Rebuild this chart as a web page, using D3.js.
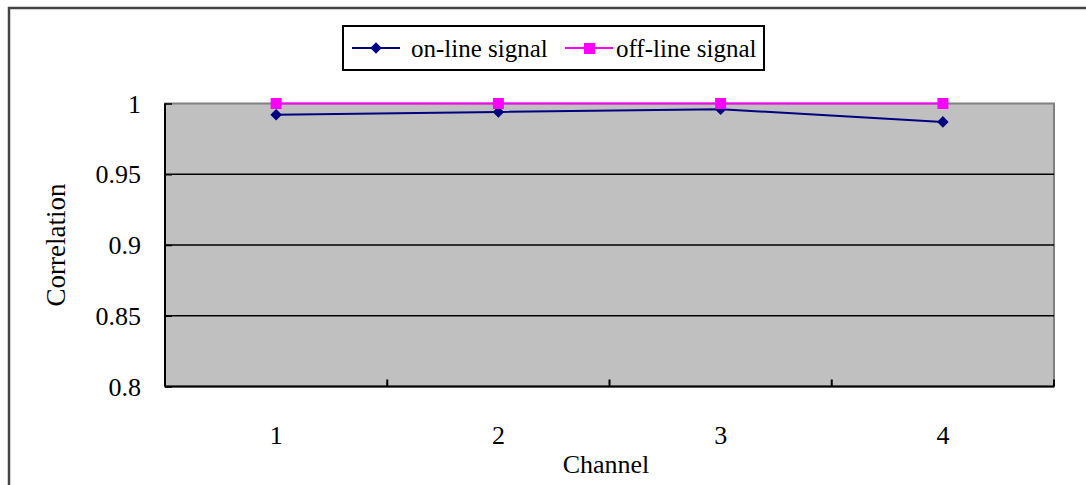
<!DOCTYPE html>
<html>
<head>
<meta charset="utf-8">
<script src="https://cdn.jsdelivr.net/npm/d3@7"></script>
<style>
  body { margin: 0; background: #fff; }
  svg { display: block; font-family: "Liberation Serif", "DejaVu Serif", serif; }
</style>
</head>
<body>
<svg width="1086" height="485"></svg>
<script>
// chart data
const channels = ["1", "2", "3", "4"];
const onLine = [0.992, 0.994, 0.996, 0.987];
const offLine = [1.0, 1.0, 1.0, 1.0];
const yTicks = [0.8, 0.85, 0.9, 0.95, 1];
const seriesNames = ["on-line signal", "off-line signal"];

const svg = d3.select("svg");

// outer chart frame (runs off the right/bottom edge)
svg.append("rect")
    .attr("x", 9).attr("y", 8)
    .attr("width", 1200).attr("height", 600)
    .attr("fill", "none")
    .attr("stroke", "#444")
    .attr("stroke-width", 2.5);

const plot = {left: 165, top: 103.5, right: 1054, bottom: 386.5};

const x = d3.scaleBand()
    .domain(channels)
    .range([plot.left, plot.right]);

const y = d3.scaleLinear()
    .domain([0.8, 1])
    .range([plot.bottom, plot.top]);

const g = svg.append("g");

// plot background
g.append("rect")
    .attr("x", plot.left).attr("y", plot.top)
    .attr("width", plot.right - plot.left)
    .attr("height", plot.bottom - plot.top)
    .attr("fill", "#c0c0c0")
    .attr("stroke", "#808080")
    .attr("stroke-width", 2);

// gridlines (not at top)
g.selectAll("line.grid")
    .data(yTicks.filter(d => d < 1 && d > 0.8))
    .enter().append("line")
    .attr("class", "grid")
    .attr("x1", plot.left).attr("x2", plot.right)
    .attr("y1", d => y(d)).attr("y2", d => y(d))
    .attr("stroke", "#000")
    .attr("stroke-width", 1.5);

// y axis, ticks pointing inward
const yAxis = g.append("g")
    .attr("transform", `translate(${plot.left},0)`)
    .call(d3.axisRight(y).tickValues(yTicks).tickSize(7).tickFormat(""));
yAxis.select(".domain").remove();
yAxis.selectAll("line").attr("stroke", "#000").attr("stroke-width", 1.5);
g.append("line")
    .attr("x1", plot.left).attr("x2", plot.left)
    .attr("y1", plot.top).attr("y2", plot.bottom)
    .attr("stroke", "#000").attr("stroke-width", 2);

g.selectAll("text.ylab")
    .data(yTicks)
    .enter().append("text")
    .attr("class", "ylab")
    .attr("x", 141)
    .attr("y", d => y(d) + 9)
    .attr("text-anchor", "end")
    .attr("font-size", 26)
    .attr("fill", "#000")
    .text(d => d);

// x axis: boundary ticks pointing up
const bounds = channels.map(c => x(c)).slice(1).concat([plot.right]);
g.selectAll("line.xtick")
    .data(bounds)
    .enter().append("line")
    .attr("class", "xtick")
    .attr("x1", d => d).attr("x2", d => d)
    .attr("y1", plot.bottom).attr("y2", plot.bottom - 7)
    .attr("stroke", "#000").attr("stroke-width", 2);
g.append("line")
    .attr("x1", plot.left).attr("x2", plot.right)
    .attr("y1", plot.bottom).attr("y2", plot.bottom)
    .attr("stroke", "#000").attr("stroke-width", 2);

g.selectAll("text.xlab")
    .data(channels)
    .enter().append("text")
    .attr("class", "xlab")
    .attr("x", d => x(d) + x.bandwidth() / 2)
    .attr("y", 444)
    .attr("text-anchor", "middle")
    .attr("font-size", 26)
    .text(d => d);

// axis titles
svg.append("text")
    .attr("x", 606).attr("y", 473)
    .attr("text-anchor", "middle")
    .attr("font-size", 26)
    .text("Channel");

svg.append("text")
    .attr("transform", "translate(65,245) rotate(-90)")
    .attr("text-anchor", "middle")
    .attr("font-size", 27)
    .text("Correlation");

// series
const cx = d => x(d) + x.bandwidth() / 2;
const line = d3.line()
    .x((d, i) => cx(channels[i]))
    .y(d => y(d));

g.append("path")
    .datum(offLine)
    .attr("d", line)
    .attr("fill", "none")
    .attr("stroke", "#ff00ff")
    .attr("stroke-width", 2);

g.append("path")
    .datum(onLine)
    .attr("d", line)
    .attr("fill", "none")
    .attr("stroke", "#000080")
    .attr("stroke-width", 2);

const diamond = d3.symbol().type(d3.symbolDiamond2).size(85);
g.selectAll("path.on")
    .data(onLine)
    .enter().append("path")
    .attr("class", "on")
    .attr("transform", (d, i) => `translate(${cx(channels[i])},${y(d)})`)
    .attr("d", diamond)
    .attr("fill", "#000080");

g.selectAll("rect.off")
    .data(offLine)
    .enter().append("rect")
    .attr("class", "off")
    .attr("x", (d, i) => cx(channels[i]) - 5.5)
    .attr("y", d => y(d) - 5.5)
    .attr("width", 11).attr("height", 11)
    .attr("fill", "#ff00ff");

// legend
const leg = svg.append("g");
leg.append("rect")
    .attr("x", 343).attr("y", 26)
    .attr("width", 421).attr("height", 44)
    .attr("fill", "#fff")
    .attr("stroke", "#000")
    .attr("stroke-width", 2);

const legItems = [
  {name: seriesNames[0], color: "#000080", x0: 352, tx: 411, mark: "diamond"},
  {name: seriesNames[1], color: "#ff00ff", x0: 565, tx: 616, mark: "square"}
];
legItems.forEach(it => {
  leg.append("line")
      .attr("x1", it.x0).attr("x2", it.x0 + 48)
      .attr("y1", 48).attr("y2", 48)
      .attr("stroke", it.color).attr("stroke-width", 2);
  if (it.mark === "diamond") {
    leg.append("path")
        .attr("transform", `translate(${it.x0 + 24},48)`)
        .attr("d", diamond)
        .attr("fill", it.color);
  } else {
    leg.append("rect")
        .attr("x", it.x0 + 19).attr("y", 43)
        .attr("width", 11).attr("height", 11)
        .attr("fill", it.color);
  }
  leg.append("text")
      .attr("x", it.tx).attr("y", 57)
      .attr("font-size", 25)
      .text(it.name);
});
</script>
</body>
</html>
